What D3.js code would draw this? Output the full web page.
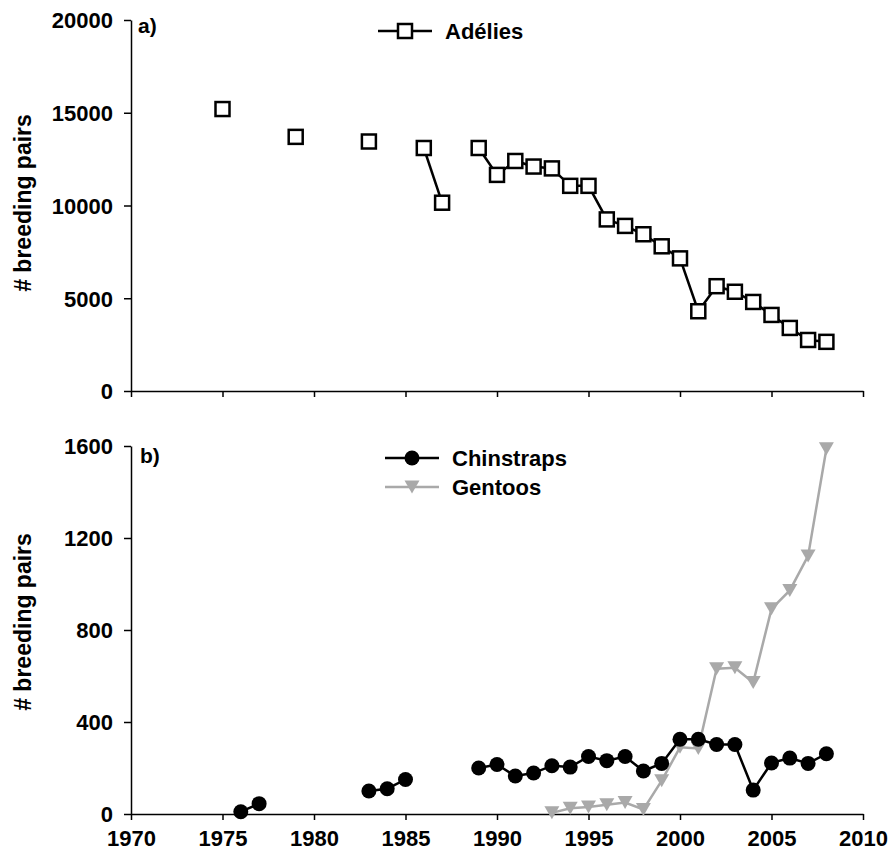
<!DOCTYPE html>
<html>
<head>
<meta charset="utf-8">
<script src="https://cdn.jsdelivr.net/npm/d3@7"></script>
<style>
  body { margin: 0; background: #fff; }
  text { font-family: "Liberation Sans", Arial, sans-serif; font-weight: bold; fill: #000; }
</style>
</head>
<body>
<div id="chart"></div>
<script>
// Adélie breeding pairs
const adelieYears = [1975, 1979, 1983, 1986, 1987, 1989, 1990, 1991, 1992, 1993, 1994, 1995, 1996, 1997, 1998, 1999, 2000, 2001, 2002, 2003, 2004, 2005, 2006, 2007, 2008];
const adeliePairs = [15200, 13700, 13450, 13100, 10150, 13100, 11650, 12400, 12100, 12000, 11060, 11060, 9250, 8900, 8450, 7800, 7150, 4300, 5650, 5350, 4800, 4100, 3400, 2750, 2650];

// Chinstrap breeding pairs
const chinYears = [1976, 1977, 1983, 1984, 1985, 1989, 1990, 1991, 1992, 1993, 1994, 1995, 1996, 1997, 1998, 1999, 2000, 2001, 2002, 2003, 2004, 2005, 2006, 2007, 2008];
const chinPairs = [10, 45, 100, 110, 150, 200, 215, 165, 178, 210, 204, 250, 232, 250, 187, 220, 325, 325, 302, 302, 104, 222, 243, 220, 262];

// Gentoo breeding pairs
const gentooYears = [1993, 1994, 1995, 1996, 1997, 1998, 1999, 2000, 2001, 2002, 2003, 2004, 2005, 2006, 2007, 2008];
const gentooPairs = [5, 25, 30, 40, 50, 20, 145, 290, 285, 632, 636, 572, 892, 972, 1122, 1588];

const xTicks = [1970, 1975, 1980, 1985, 1990, 1995, 2000, 2005, 2010];
const topTicks = [0, 5000, 10000, 15000, 20000];
const bottomTicks = [0, 400, 800, 1200, 1600];

const width = 889, height = 859;
const gentooColor = '#a9a9a9';

const svg = d3.select('#chart').append('svg').attr('width', width).attr('height', height);

const x = d3.scaleLinear().domain([1970, 2010]).range([131, 863]);
const yTop = d3.scaleLinear().domain([0, 20000]).range([391, 20]);
const yBot = d3.scaleLinear().domain([0, 1600]).range([814, 446]);

// split into runs of consecutive years so that gaps stay open
function segments(years, values){
    const segs = [];
    let cur = [];
    years.forEach((yr, i) => {
        if(cur.length && yr - cur[cur.length - 1][0] > 1){
            segs.push(cur);
            cur = [];
        }
        cur.push([yr, values[i]]);
    });
    if(cur.length) segs.push(cur);
    return segs;
}

function drawAxes(y, ticks, showLabels){
    const yAxis = svg.append('g')
        .attr('transform', `translate(${x.range()[0]},0)`)
        .call(d3.axisLeft(y).tickValues(ticks).tickSize(7).tickSizeOuter(0).tickPadding(11)
            .tickFormat(d3.format('d')));
    const xAxis = svg.append('g')
        .attr('transform', `translate(0,${y.range()[0]})`)
        .call(d3.axisBottom(x).tickValues(xTicks).tickSize(6).tickSizeOuter(0).tickPadding(10)
            .tickFormat(showLabels ? d3.format('d') : ''));
    [yAxis, xAxis].forEach((g) => {
        g.selectAll('path, line').attr('stroke', '#000').attr('stroke-width', 1.5);
        g.selectAll('text').style('font-size', '22px').attr('fill', '#000');
    });
    yAxis.selectAll('text').attr('dy', '0.36em');
}

function drawSeries(years, values, y, color, marker){
    const line = d3.line().x((d) => x(d[0])).y((d) => y(d[1]));
    segments(years, values).forEach((seg) => {
        if(seg.length > 1){
            svg.append('path').datum(seg).attr('d', line)
                .attr('fill', 'none').attr('stroke', color).attr('stroke-width', 2.5);
        }
    });
    const pts = years.map((yr, i) => [x(yr), y(values[i])]);
    pts.forEach((p) => marker(p[0], p[1]));
}

function square(cx, cy){
    svg.append('rect').attr('x', cx - 7).attr('y', cy - 7).attr('width', 14).attr('height', 14)
        .attr('fill', '#fff').attr('stroke', '#000').attr('stroke-width', 2.5);
}
function circle(cx, cy){
    svg.append('circle').attr('cx', cx).attr('cy', cy).attr('r', 7.5).attr('fill', '#000');
}
function triangle(cx, cy){
    svg.append('path').attr('d', `M${cx - 7.5},${cy - 6.5}L${cx + 7.5},${cy - 6.5}L${cx},${cy + 6.5}Z`)
        .attr('fill', gentooColor);
}

// top panel
drawAxes(yTop, topTicks, false);
drawSeries(adelieYears, adeliePairs, yTop, '#000', square);
svg.append('text').attr('x', 138).attr('y', 33).style('font-size', '21px').text('a)');

// bottom panel
drawAxes(yBot, bottomTicks, true);
drawSeries(gentooYears, gentooPairs, yBot, gentooColor, triangle);
drawSeries(chinYears, chinPairs, yBot, '#000', circle);
svg.append('text').attr('x', 140).attr('y', 463).style('font-size', '21px').text('b)');

// y titles
[[21, 203], [21, 622]].forEach(([tx, ty]) => {
    svg.append('text').attr('transform', `translate(${tx + 10},${ty}) rotate(-90)`)
        .attr('text-anchor', 'middle').style('font-size', '23px').text('# breeding pairs');
});

// legends
function legendEntry(x0, y0, color, marker, label){
    svg.append('line').attr('x1', x0).attr('x2', x0 + 54).attr('y1', y0).attr('y2', y0)
        .attr('stroke', color).attr('stroke-width', 2.5);
    marker(x0 + 27, y0);
    svg.append('text').attr('x', x0 + 67).attr('y', y0 + 7.5).style('font-size', '22px').text(label);
}
legendEntry(378, 31, '#000', square, 'Adélies');
legendEntry(385, 458, '#000', circle, 'Chinstraps');
legendEntry(385, 487, gentooColor, triangle, 'Gentoos');
</script>
</body>
</html>
